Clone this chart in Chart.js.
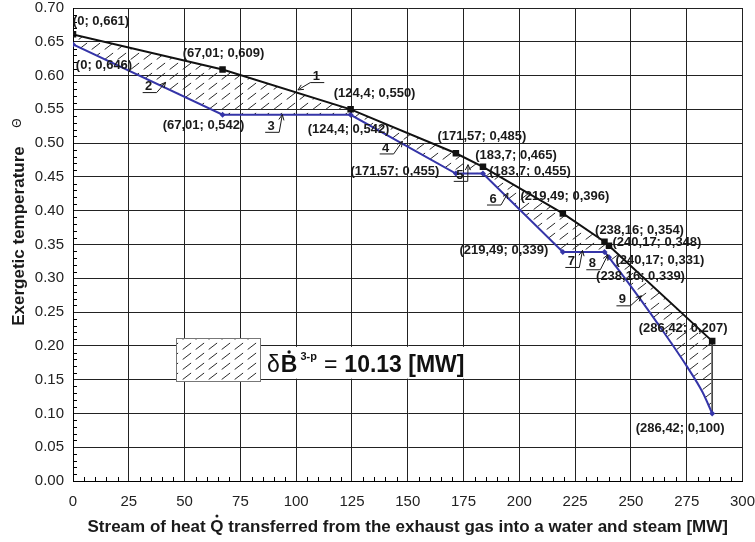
<!DOCTYPE html>
<html>
<head>
<meta charset="utf-8">
<script src="https://cdn.jsdelivr.net/npm/chart.js@4.4.0/dist/chart.umd.min.js"></script>
<style>
html,body{margin:0;padding:0;background:#fff;}
#wrap{width:755px;height:542px;position:relative;}
</style>
</head>
<body>
<div id="wrap"><canvas id="c" width="755" height="542"></canvas></div>
<script>
// ---------------- DATA ----------------
const heatQ = [0, 67.01, 124.4, 171.57, 183.7, 219.49, 238.16, 240.17, 286.42];
const gasTheta = [0.661, 0.609, 0.550, 0.485, 0.465, 0.396, 0.354, 0.348, 0.207];
const steamTheta = [0.646, 0.542, 0.542, 0.455, 0.455, 0.339, 0.339, 0.331, 0.100];
// read-off points along the curved last segment of the water/steam line
const steamCurveQ = [250, 262, 275, 282];
const steamCurveTheta = [0.288, 0.233, 0.170, 0.132];
const xTickValues = [0, 25, 50, 75, 100, 125, 150, 175, 200, 225, 250, 275, 300];
const yTickValues = [0, 0.05, 0.10, 0.15, 0.20, 0.25, 0.30, 0.35, 0.40, 0.45, 0.50, 0.55, 0.60, 0.65, 0.70];
const segmentNumbers = ['1', '2', '3', '4', '5', '6', '7', '8', '9'];
const exergyLossValue = '10.13';
const xTitle = 'Stream of heat Q transferred from the exhaust gas into a water and steam [MW]';
const yTitle = 'Exergetic temperature';

// ---------------- BUILD ----------------
const canvas = document.getElementById('c');
const ctx0 = canvas.getContext('2d');

function makeHatch() {
  const w = 13, h = 10;
  const c = document.createElement('canvas');
  c.width = w; c.height = h;
  const g = c.getContext('2d');
  g.strokeStyle = '#2a2a2a';
  g.lineWidth = 1;
  g.beginPath();
  g.moveTo(w * 0.05, h * 0.95);
  g.lineTo(w * 0.70, h * 0.30);
  g.stroke();
  return ctx0.createPattern(c, 'repeat');
}
const hatch = makeHatch();

const last = heatQ.length - 1;
const gasPts = heatQ.map((q, i) => ({x: q, y: gasTheta[i]}));
const steamMainPts = heatQ.slice(0, last).map((q, i) => ({x: q, y: steamTheta[i]}));
const steamTailPts = [{x: heatQ[last - 1], y: steamTheta[last - 1]}]
  .concat(steamCurveQ.map((q, i) => ({x: q, y: steamCurveTheta[i]})))
  .concat([{x: heatQ[last], y: steamTheta[last]}]);
const edgePts = [{x: heatQ[last], y: gasTheta[last]}, {x: heatQ[last], y: steamTheta[last]}];

const fmtQ = q => String(q).replace('.', ',');
const fmtT = t => t.toFixed(3).replace('.', ',');

const BLUE = '#3535a8';

// label offsets (pixels) relative to the point
const gasOff = [[28,-13],[1,-16],[24,-16],[26,-17],[33,-11],[2,-17],[35,-11],[48,-3],[-29,-13]];
const steamOff = [[31,21],[-19,11],[-2,15],[-61,-2],[47,-2],[-59,-2],[36,24],[51,3],[-32,15]];

// numbered arrows: text anchor and arrow tip in axis units, side of leader
const arrowSpec = [
  {t:[109.0,0.5985], tip:[100.8,0.5788], side:'L'},
  {t:[33.9,0.5837], tip:[41.5,0.590], side:'R'},
  {t:[88.8,0.5249], tip:[93.8,0.5422], side:'R'},
  {t:[140.1,0.4929], tip:[147.6,0.5027], side:'R'},
  {t:[173.3,0.4523], tip:[177.0,0.4681], side:'R'},
  {t:[188.2,0.4173], tip:[194.9,0.4262], side:'R'},
  {t:[223.3,0.3249], tip:[228.3,0.3412], side:'R'},
  {t:[232.7,0.3215], tip:[239.7,0.3348], side:'R'},
  {t:[246.2,0.2681], tip:[254.7,0.2741], side:'R'}
];

const overlay = {
  id: 'overlay',
  afterDatasetsDraw(chart) {
    const ctx = chart.ctx, xs = chart.scales.x, ys = chart.scales.y, ca = chart.chartArea;
    ctx.save();
    // minor ticks
    ctx.strokeStyle = '#000'; ctx.lineWidth = 1;
    ctx.beginPath();
    for (let k = 1; k < 70; k++) {
      if (k % 5 === 0) continue;
      const y = Math.round(ys.getPixelForValue(k / 100)) + 0.5;
      ctx.moveTo(ca.left, y); ctx.lineTo(ca.left + 4, y);
    }
    for (let k = 1; k < 60; k++) {
      if (k % 5 === 0) continue;
      const x = Math.round(xs.getPixelForValue(k * 5)) + 0.5;
      ctx.moveTo(x, ca.bottom); ctx.lineTo(x, ca.bottom - 4);
    }
    ctx.stroke();

    // point labels
    ctx.font = 'bold 13px Arial';
    ctx.fillStyle = '#1a1a1a';
    ctx.textAlign = 'center'; ctx.textBaseline = 'middle';
    heatQ.forEach((q, i) => {
      const px = xs.getPixelForValue(q), py = ys.getPixelForValue(gasTheta[i]);
      ctx.fillText('(' + fmtQ(q) + '; ' + fmtT(gasTheta[i]) + ')', px + gasOff[i][0], py + gasOff[i][1]);
      const sy = ys.getPixelForValue(steamTheta[i]);
      ctx.fillText('(' + fmtQ(q) + '; ' + fmtT(steamTheta[i]) + ')', px + steamOff[i][0], sy + steamOff[i][1]);
    });

    // numbered arrows
    ctx.strokeStyle = '#1a1a1a'; ctx.lineWidth = 1;
    arrowSpec.forEach((a, i) => {
      const cx = xs.getPixelForValue(a.t[0]), cy = ys.getPixelForValue(a.t[1]);
      const tx = xs.getPixelForValue(a.tip[0]), ty = ys.getPixelForValue(a.tip[1]);
      ctx.fillText(segmentNumbers[i], cx, cy);
      const uy = cy + 6, ux0 = cx - 6, ux1 = cx + 8;
      const sx = a.side === 'L' ? ux0 : ux1;
      ctx.beginPath();
      ctx.moveTo(ux0, uy); ctx.lineTo(ux1, uy);
      ctx.moveTo(sx, uy); ctx.lineTo(tx, ty);
      const ang = Math.atan2(ty - uy, tx - sx);
      const L = 6, sp = 0.45;
      ctx.moveTo(tx, ty); ctx.lineTo(tx - L * Math.cos(ang - sp), ty - L * Math.sin(ang - sp));
      ctx.moveTo(tx, ty); ctx.lineTo(tx - L * Math.cos(ang + sp), ty - L * Math.sin(ang + sp));
      ctx.stroke();
    });

    // legend block
    const yTop = ys.getPixelForValue(0.20) + 1, yBot = ys.getPixelForValue(0.15) - 1;
    ctx.fillStyle = '#fff';
    ctx.fillRect(176, 338, 85, 44);
    ctx.fillRect(261, yTop, 210, yBot - yTop);
    ctx.fillStyle = hatch;
    ctx.fillRect(176, 338, 85, 44);
    ctx.strokeStyle = '#777';
    ctx.strokeRect(176.5, 338.5, 84, 43);
    ctx.fillStyle = '#111';
    ctx.textAlign = 'left'; ctx.textBaseline = 'alphabetic';
    const base = 372;
    let x = 267;
    ctx.font = '23px Arial';
    ctx.fillText('\u03b4', x, base); x += ctx.measureText('\u03b4').width + 1;
    ctx.font = 'bold 23px Arial';
    const bw = ctx.measureText('B').width;
    ctx.fillText('B', x, base);
    ctx.beginPath(); ctx.arc(x + bw / 2, base - 20, 1.7, 0, Math.PI * 2); ctx.fill();
    x += bw + 3;
    ctx.font = 'bold 11px Arial';
    ctx.fillText('3-p', x, base - 12); x += ctx.measureText('3-p').width + 7;
    ctx.font = '23px Arial';
    ctx.fillText('=', x, base); x += ctx.measureText('=').width + 7;
    ctx.font = 'bold 23px Arial';
    ctx.fillText(exergyLossValue + ' [MW]', x, base);

    // axis titles
    ctx.fillStyle = '#1a1a1a';
    ctx.font = 'bold 17px Arial';
    const total = ctx.measureText(xTitle).width;
    const cxT = (ca.left + ca.right) / 2;
    const x0 = cxT - total / 2, by = 532;
    ctx.fillText(xTitle, x0, by);
    const qx = x0 + ctx.measureText('Stream of heat ').width + ctx.measureText('Q').width / 2;
    ctx.beginPath(); ctx.arc(qx, by - 16, 1.5, 0, Math.PI * 2); ctx.fill();

    ctx.save();
    ctx.translate(18, 236);
    ctx.rotate(-Math.PI / 2);
    ctx.textAlign = 'center';
    ctx.fillText(yTitle, 0, 6);
    ctx.font = '12px Arial';
    ctx.textBaseline = 'middle';
    ctx.fillText('\u0398', 113, 0);
    ctx.restore();
    ctx.restore();
  }
};

new Chart(canvas, {
  type: 'line',
  data: {
    datasets: [
      {
        data: gasPts,
        borderColor: '#111', borderWidth: 2,
        pointStyle: 'rect', pointRadius: 4.6, pointBackgroundColor: '#111', pointBorderWidth: 0,
        fill: false, tension: 0
      },
      {
        data: steamMainPts,
        borderColor: BLUE, borderWidth: 2,
        pointStyle: 'rectRot', pointRadius: 3,
        pointBackgroundColor: BLUE, pointBorderWidth: 0,
        fill: {target: 0}, backgroundColor: hatch, tension: 0
      },
      {
        data: steamTailPts,
        borderColor: BLUE, borderWidth: 2,
        pointStyle: 'rectRot',
        pointRadius: steamTailPts.map((p, i) => i === steamTailPts.length - 1 ? 3 : 0),
        pointBackgroundColor: BLUE, pointBorderWidth: 0,
        fill: {target: 0}, backgroundColor: hatch,
        cubicInterpolationMode: 'monotone'
      },
      {
        data: edgePts,
        borderColor: '#444', borderWidth: 1, pointRadius: 0, fill: false
      }
    ]
  },
  options: {
    responsive: false, animation: false,
    layout: {padding: 0},
    plugins: {legend: {display: false}, tooltip: {enabled: false}},
    scales: {
      x: {
        type: 'linear', min: 0, max: 300,
        afterBuildTicks: s => { s.ticks = xTickValues.map(v => ({value: v})); },
        afterFit: s => { s.height = 61; s.paddingLeft = 0; s.paddingRight = 12.5; },
        grid: {color: '#222', lineWidth: 1, drawTicks: false},
        border: {color: '#000', width: 1},
        ticks: {padding: 12, font: {family: 'Arial', size: 15}, color: '#222', maxRotation: 0, autoSkip: false,
          callback: v => String(v)}
      },
      y: {
        type: 'linear', min: 0, max: 0.7,
        afterBuildTicks: s => { s.ticks = yTickValues.map(v => ({value: v})); },
        afterFit: s => { s.width = 73; s.paddingTop = 8; s.paddingBottom = 0; },
        grid: {color: '#222', lineWidth: 1, drawTicks: false},
        border: {color: '#000', width: 1},
        ticks: {padding: 9, font: {family: 'Arial', size: 15}, color: '#222', autoSkip: false,
          callback: v => Number(v).toFixed(2)}
      }
    }
  },
  plugins: [overlay]
});
</script>
</body>
</html>
